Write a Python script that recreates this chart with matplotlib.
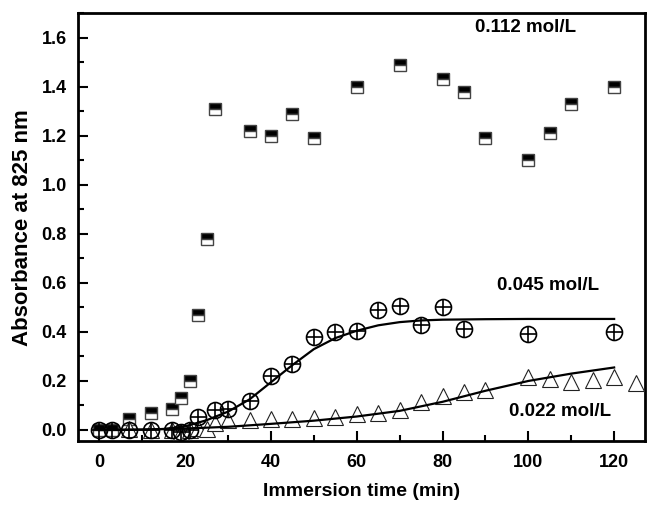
import numpy as np
import matplotlib.pyplot as plt
from matplotlib.ticker import MultipleLocator, FormatStrFormatter

plt.rcParams['font.family'] = ['Liberation Sans', 'DejaVu Sans']
plt.rcParams['font.weight'] = 'bold'

# 0.112 mol/L (half-filled squares)
t_hi = [0, 3, 7, 12, 17, 19, 21, 23, 25, 27, 35, 40, 45, 50, 60, 70, 80, 85, 90, 100, 105, 110, 120]
a_hi = [0.0, 0.0, 0.045, 0.07, 0.085, 0.13, 0.2, 0.47, 0.78, 1.31, 1.22, 1.20, 1.29, 1.19,
        1.40, 1.49, 1.43, 1.38, 1.19, 1.10, 1.21, 1.33, 1.40]

# 0.045 mol/L (circled plus)
t_mid = [0, 3, 7, 12, 17, 19, 21, 23, 27, 30, 35, 40, 45, 50, 55, 60, 65, 70, 75, 80, 85, 100, 120]
a_mid = [0.0, 0.0, 0.0, 0.0, 0.0, -0.01, 0.0, 0.055, 0.08, 0.085, 0.12, 0.22, 0.27, 0.38,
         0.40, 0.405, 0.49, 0.505, 0.43, 0.50, 0.41, 0.39, 0.40]
fit_t_mid = [0, 10, 15, 20, 25, 30, 35, 40, 45, 50, 55, 60, 65, 70, 75, 80, 90, 100, 110, 120]
fit_a_mid = [0.0, 0.001, 0.004, 0.015, 0.04, 0.075, 0.125, 0.195, 0.265, 0.33, 0.375, 0.405,
             0.427, 0.44, 0.447, 0.45, 0.452, 0.453, 0.453, 0.453]

# 0.022 mol/L (open triangles)
t_lo = [7, 12, 17, 19, 21, 23, 25, 27, 30, 35, 40, 45, 50, 55, 60, 65, 70, 75, 80, 85, 90,
        100, 105, 110, 115, 120, 125]
a_lo = [0.005, 0.0, 0.0, -0.01, 0.0, 0.01, 0.005, 0.03, 0.04, 0.04, 0.045, 0.045, 0.05, 0.055,
        0.065, 0.07, 0.08, 0.115, 0.14, 0.155, 0.165, 0.215, 0.21, 0.195, 0.205, 0.215, 0.19]
fit_t_lo = [0, 10, 20, 30, 40, 50, 60, 70, 80, 90, 100, 110, 120]
fit_a_lo = [0.0, 0.002, 0.006, 0.013, 0.025, 0.038, 0.055, 0.078, 0.115, 0.16, 0.2, 0.23, 0.255]

labels = ['0.112 mol/L', '0.045 mol/L', '0.022 mol/L']
label_pos = [(99.3, 1.64), (104.7, 0.59), (107.5, 0.077)]

fig = plt.figure(figsize=(6.48, 5.05), dpi=100)
ax = fig.add_axes([0.1204, 0.1267, 0.875, 0.847])

ax.plot(t_hi, a_hi, linestyle='none', marker='s', markersize=9, fillstyle='top',
        markerfacecolor='black', markerfacecoloralt='white', markeredgecolor='#444444',
        markeredgewidth=1.0, zorder=2)
ax.plot(t_lo, a_lo, linestyle='none', marker='^', markersize=11, markerfacecolor='white',
        markeredgecolor='#222222', markeredgewidth=0.8, zorder=3)
ax.plot(t_mid, a_mid, linestyle='none', marker='o', markersize=11.5, markerfacecolor='none',
        markeredgecolor='black', markeredgewidth=1.2, zorder=4)
ax.plot(t_mid, a_mid, linestyle='none', marker='+', markersize=11.5,
        markeredgecolor='black', markeredgewidth=1.2, zorder=4)

ax.plot(fit_t_mid, fit_a_mid, color='black', linewidth=1.6, zorder=5)
ax.plot(fit_t_lo, fit_a_lo, color='black', linewidth=1.6, zorder=5)

for txt, (x, y) in zip(labels, label_pos):
    ax.text(x, y, txt, ha='center', va='center', fontsize=13.5, fontweight='bold')

ax.set_xlim(-5, 127.2)
ax.set_ylim(-0.045, 1.7)
ax.xaxis.set_major_locator(MultipleLocator(20))
ax.xaxis.set_minor_locator(MultipleLocator(10))
ax.yaxis.set_major_locator(MultipleLocator(0.2))
ax.yaxis.set_minor_locator(MultipleLocator(0.1))
ax.yaxis.set_major_formatter(FormatStrFormatter('%.1f'))
ax.tick_params(which='both', direction='in', top=False, right=False, width=1.5, labelsize=13)
ax.tick_params(which='major', length=7)
ax.tick_params(which='minor', length=4)
for lab in ax.get_xticklabels() + ax.get_yticklabels():
    lab.set_fontweight('bold')
ax.tick_params(axis='x', pad=9)
ax.tick_params(axis='y', pad=8)
for s in ax.spines.values():
    s.set_linewidth(2)

ax.set_xlabel('Immersion time (min)', fontsize=14, fontweight='bold', labelpad=9)
ax.set_ylabel('Absorbance at 825 nm', fontsize=16, fontweight='bold', labelpad=6)

fig.savefig('out.png', dpi=100)
